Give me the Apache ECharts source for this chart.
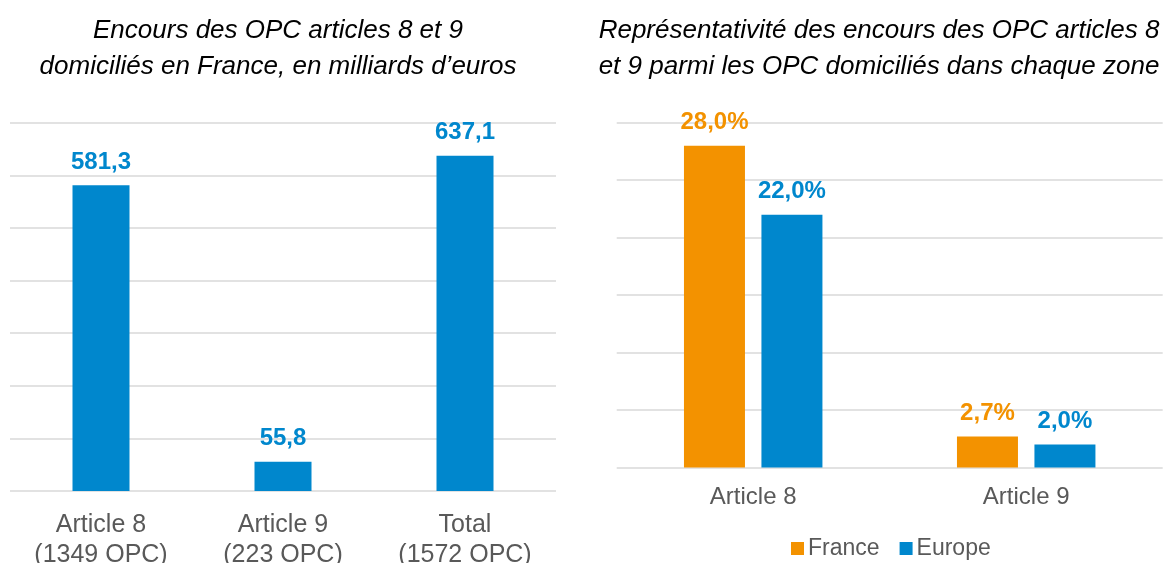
<!DOCTYPE html>
<html>
<head>
<meta charset="utf-8">
<script src="https://cdn.jsdelivr.net/npm/echarts@6/dist/echarts.min.js"></script>
<style>
html,body{margin:0;padding:0;background:#fff;}
#chart{width:1174px;height:563px;}
</style>
</head>
<body>
<div id="chart"></div>
<script>
// ---- Data ----
const leftTitle = 'Encours des OPC articles 8 et 9\ndomiciliés en France, en milliards d’euros';
const rightTitle = 'Représentativité des encours des OPC articles 8\net 9 parmi les OPC domiciliés dans chaque zone';
const leftCategories = ['Article 8\n(1349 OPC)', 'Article 9\n(223 OPC)', 'Total\n(1572 OPC)'];
const encours = [581.3, 55.8, 637.1];
const rightCategories = ['Article 8', 'Article 9'];
const seriesNames = ['France', 'Europe'];
const france = [28.0, 2.7];
const europe = [22.0, 2.0];

// ---- Style ----
const FONT = '"Liberation Sans", Arial, sans-serif';
const BLUE = '#0087CD';
const ORANGE = '#F39200';
const GRAY = '#595959';
const GRID = '#D9D9D9';

const fmt = (v) => v.toFixed(1).replace('.', ',');

const chart = echarts.init(document.getElementById('chart'), null, {renderer: 'canvas'});

const splitLine = {show: true, lineStyle: {color: GRID, width: 1.5}};

const option = {
  backgroundColor: '#ffffff',
  animation: false,
  title: [
    {
      text: leftTitle, left: 278, top: 13, textAlign: 'center', padding: 0,
      textStyle: {fontFamily: FONT, fontSize: 26, fontStyle: 'italic', fontWeight: 'normal', color: '#000', lineHeight: 36}
    },
    {
      text: rightTitle, left: 879, top: 13, textAlign: 'center', padding: 0,
      textStyle: {fontFamily: FONT, fontSize: 26, fontStyle: 'italic', fontWeight: 'normal', color: '#000', lineHeight: 36}
    }
  ],
  legend: {
    data: seriesNames,
    left: 791, top: 537, padding: 0,
    itemWidth: 13, itemHeight: 13, itemGap: 20,
    icon: 'rect',
    textStyle: {fontFamily: FONT, fontSize: 23, color: GRAY, padding: [0, 0, 0, -1]}
  },
  grid: [
    {left: 10, width: 546, top: 122.7, height: 368.3, containLabel: false, outerBoundsMode: 'none'},
    {left: 616.7, width: 546, top: 122.7, height: 344.8, containLabel: false, outerBoundsMode: 'none'}
  ],
  xAxis: [
    {
      type: 'category', gridIndex: 0, data: leftCategories,
      axisLine: {show: false}, axisTick: {show: false},
      axisLabel: {fontFamily: FONT, fontSize: 25, color: GRAY, lineHeight: 30, margin: 19, interval: 0}
    },
    {
      type: 'category', gridIndex: 1, data: rightCategories,
      axisLine: {show: false}, axisTick: {show: false},
      axisLabel: {fontFamily: FONT, fontSize: 24, color: GRAY, lineHeight: 26, margin: 17, interval: 0}
    }
  ],
  yAxis: [
    {
      type: 'value', gridIndex: 0, min: 0, max: 700, interval: 100,
      axisLine: {show: false}, axisTick: {show: false}, axisLabel: {show: false},
      splitLine: splitLine
    },
    {
      type: 'value', gridIndex: 1, min: 0, max: 30, interval: 5,
      axisLine: {show: false}, axisTick: {show: false}, axisLabel: {show: false},
      splitLine: splitLine
    }
  ],
  series: [
    {
      name: 'Encours', type: 'bar', xAxisIndex: 0, yAxisIndex: 0,
      data: encours, barWidth: 57,
      itemStyle: {color: BLUE},
      label: {
        show: true, position: 'top', distance: 11,
        fontFamily: FONT, fontSize: 24, fontWeight: 'bold', color: BLUE,
        formatter: (p) => fmt(p.value)
      }
    },
    {
      name: seriesNames[0], type: 'bar', xAxisIndex: 1, yAxisIndex: 1,
      data: france, barWidth: 61, barGap: '27%',
      itemStyle: {color: ORANGE},
      label: {
        show: true, position: 'top', distance: 11,
        fontFamily: FONT, fontSize: 24, fontWeight: 'bold', color: ORANGE,
        formatter: (p) => fmt(p.value) + '%'
      }
    },
    {
      name: seriesNames[1], type: 'bar', xAxisIndex: 1, yAxisIndex: 1,
      data: europe, barWidth: 61, barGap: '27%',
      itemStyle: {color: BLUE},
      label: {
        show: true, position: 'top', distance: 11,
        fontFamily: FONT, fontSize: 24, fontWeight: 'bold', color: BLUE,
        formatter: (p) => fmt(p.value) + '%'
      }
    }
  ]
};

chart.setOption(option);
</script>
</body>
</html>
